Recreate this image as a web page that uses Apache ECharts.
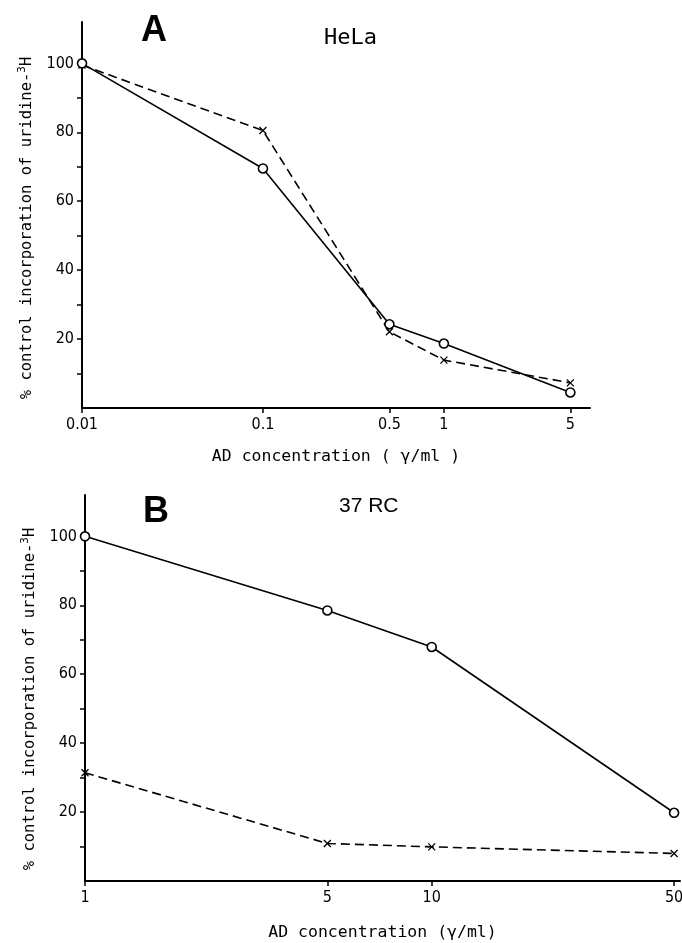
<!DOCTYPE html>
<html><head><meta charset="utf-8">
<script src="https://cdn.jsdelivr.net/npm/echarts@6/dist/echarts.min.js"></script>
<style>html,body{margin:0;padding:0;background:#fff}#c{width:682px;height:943px}</style>
</head><body><div id="c"></div>
<script>
// Panel A (HeLa)
const concA = [0.01, 0.1, 0.5, 1, 5];
const hela_solid = [100, 69.5, 24.3, 18.7, 4.5];
const hela_dashed = [99.5, 80.5, 22.1, 13.9, 7.3];
const ticksA = [0.01, 0.1, 0.5, 1, 5];
// Panel B (37 RC)
const concB = [1, 5, 10, 50];
const rc_solid = [100, 78.5, 67.9, 19.8];
const rc_dashed = [31.4, 10.9, 9.9, 8.0];
const ticksB = [1, 5, 10, 50];
const yLabels = [20, 40, 60, 80, 100];
const yTicks = [10, 20, 30, 40, 50, 60, 70, 80, 90, 100];

const chart = echarts.init(document.getElementById('c'), null, {renderer: 'canvas'});
const tickFont = 'Liberation Sans Narrow, DejaVu Sans Condensed, sans-serif';
const mono = 'DejaVu Sans Mono, monospace';
const crossPath = 'path://M0,0L10,10M10,0L0,10';

function xAxis(gi, min, max, ticks, name, gap) {
  return {
    type: 'log', gridIndex: gi, min: min, max: max, logBase: 10,
    axisLine: {show: true, onZero: false, lineStyle: {color: '#000', width: 2}},
    axisTick: {show: true, inside: false, length: 5, customValues: ticks, lineStyle: {color: '#000', width: 1.5}},
    axisLabel: {show: true, customValues: ticks, color: '#000', fontFamily: tickFont, fontSize: 16, margin: 9,
      formatter: v => String(+v.toPrecision(3))},
    splitLine: {show: false}, minorTick: {show: false},
    name: name, nameLocation: 'middle', nameGap: gap,
    nameTextStyle: {color: '#000', fontFamily: mono, fontSize: 16.5}
  };
}
function yAxis(gi, shift) {
  return {
    type: 'value', gridIndex: gi, min: 0, max: 112,
    axisLine: {show: true, onZero: false, lineStyle: {color: '#000', width: 2}},
    axisTick: {show: true, inside: false, length: 5, customValues: yTicks, lineStyle: {color: '#000', width: 1.5}},
    axisLabel: {show: true, customValues: yLabels, color: '#000', fontFamily: tickFont, fontSize: 16, margin: 8},
    splitLine: {show: false},
    name: '{a|% control incorporation of uridine-}{s|3}{a|H}', nameLocation: 'middle', nameGap: 46,
    nameRotate: 90,
    nameTextStyle: {padding: [0, shift, 0, 0], rich: {a: {color: '#000', fontFamily: mono, fontSize: 15.5},
                          s: {color: '#000', fontFamily: mono, fontSize: 11, verticalAlign: 'top', padding: [0,0,8,0]}}}
  };
}
function solid(xi, xs, ys) {
  return {type: 'line', xAxisIndex: xi, yAxisIndex: xi, data: xs.map((x, i) => [x, ys[i]]),
    symbol: 'circle', symbolSize: 9, showSymbol: true,
    lineStyle: {color: '#000', width: 1.6, type: 'solid'},
    itemStyle: {color: '#fff', borderColor: '#000', borderWidth: 1.6}, z: 3, animation: false};
}
function dashed(xi, xs, ys) {
  return {type: 'line', xAxisIndex: xi, yAxisIndex: xi, data: xs.map((x, i) => [x, ys[i]]),
    symbol: crossPath, symbolSize: 7, showSymbol: true,
    lineStyle: {color: '#000', width: 1.6, type: [9, 5]},
    itemStyle: {color: '#000', borderColor: '#000', borderWidth: 1.3}, z: 2, animation: false};
}

chart.setOption({
  animation: false,
  backgroundColor: '#fff',
  title: [
    {text: 'A', left: 136, top: 8, textStyle: {fontFamily: 'Liberation Sans, sans-serif', fontWeight: 'bold', fontSize: 36, color: '#000'}},
    {text: 'HeLa', left: 319, top: 22, textStyle: {fontFamily: mono, fontWeight: 'normal', fontSize: 22, color: '#000'}},
    {text: 'B', left: 138, top: 489, textStyle: {fontFamily: 'Liberation Sans, sans-serif', fontWeight: 'bold', fontSize: 36, color: '#000'}},
    {text: '37 RC', left: 334, top: 491, textStyle: {fontFamily: 'Liberation Sans Narrow, sans-serif', fontWeight: 'normal', fontSize: 21, color: '#000'}}
  ],
  grid: [
    {left: 82, right: 92, top: 22, bottom: 535, containLabel: false, outerBoundsMode: 'none'},
    {left: 85, right: 2, top: 495, bottom: 62, containLabel: false, outerBoundsMode: 'none'}
  ],
  xAxis: [xAxis(0, 0.01, 6.42, ticksA, 'AD concentration ( γ/ml )', 40),
          xAxis(1, 1, 52, ticksB, 'AD concentration (γ/ml)', 43)],
  yAxis: [yAxis(0, 26), yAxis(1, 22)],
  series: [
    solid(0, concA, hela_solid), dashed(0, concA, hela_dashed),
    solid(1, concB, rc_solid), dashed(1, concB, rc_dashed)
  ]
});
</script></body></html>
